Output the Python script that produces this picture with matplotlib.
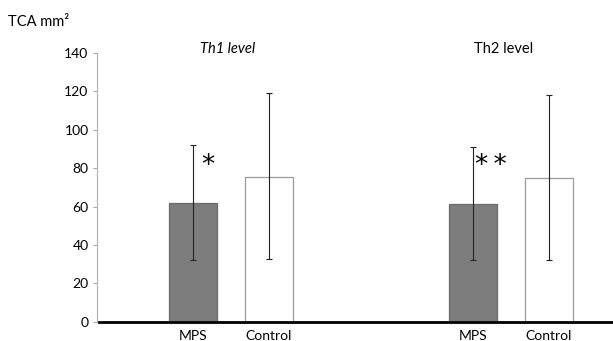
import numpy as np
import matplotlib
matplotlib.use("Agg")
import matplotlib.pyplot as plt

plt.rcParams['font.family'] = ['Lato', 'DejaVu Sans']

groups = ['Th1 level', 'Th2 level']
labels = ['MPS', 'Control', 'MPS', 'Control']
means = [61.9, 75.4, 61.1, 74.9]
err_lo = [29.7, 42.6, 29.2, 42.7]
err_hi = [30.1, 43.6, 30.0, 43.0]
stars = ['*', '*\u2009*']

pos = np.array([0, 1, 3.68, 4.68])
colors = ['#7d7d7d', 'white', '#7d7d7d', 'white']

fig = plt.figure(figsize=(6.13, 3.41), dpi=100)
ax = fig.add_axes([0.158, 0.0566, 0.842, 0.788])

ax.bar(pos, means, width=0.63, color=colors, edgecolor=['#6a6a6a', '#9a9a9a', '#6a6a6a', '#9a9a9a'],
       linewidth=0.9, zorder=2)
ax.errorbar(pos, means, yerr=[err_lo, err_hi], fmt='none', ecolor='#222222',
            elinewidth=0.8, capsize=2.5, capthick=0.8, zorder=3)

ax.set_xlim(-1.263, 5.526)
ax.set_ylim(0, 140)
ax.set_yticks(np.arange(0, 141, 20))
ax.set_xticks(pos)
ax.set_xticklabels(labels, fontsize=10)
ax.tick_params(axis='x', length=0, pad=6)
ax.tick_params(axis='y', length=3, color='#aaaaaa', labelsize=10, pad=3)

for s in ['top', 'right']:
    ax.spines[s].set_visible(False)
ax.spines['left'].set_color('#b0b0b0')
ax.spines['left'].set_linestyle((0, (1, 1)))
ax.spines['left'].set_linewidth(0.8)
ax.spines['bottom'].set_visible(False)
ax.axhline(0, xmin=0.005, xmax=1, color='black', linewidth=2, zorder=4, clip_on=False)

# group titles
ax.text((pos[0] + pos[1]) / 2 - 0.05, 142, groups[0], ha='center', va='center', fontsize=10.5, style='italic')
ax.text((pos[2] + pos[3]) / 2 - 0.1, 142, groups[1], ha='center', va='center', fontsize=10.5)

# significance marks
ax.text(pos[0] + 0.2, 81, stars[0], ha='center', va='center', fontsize=19,
        family='DejaVu Sans')
ax.text(pos[2] + 0.24, 81, stars[1], ha='center', va='center', fontsize=19,
        family='DejaVu Sans')

fig.text(0.013, 0.935, 'TCA mm\u00b2', fontsize=10.5, ha='left', va='center')

fig.savefig('out.png', dpi=100)
